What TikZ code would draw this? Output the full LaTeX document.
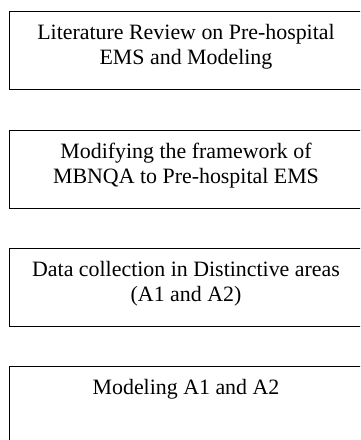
\documentclass[tikz,border=0pt]{standalone}
\usepackage{fontspec}
\setmainfont{Liberation Serif}
\begin{document}
\begin{tikzpicture}[x=1pt,y=-1pt,
  box/.style={draw, line width=1pt, minimum width=355.5pt, minimum height=78pt, inner sep=0pt, anchor=north west},
  lbl/.style={anchor=north, inner sep=0pt, align=center, font=\fontsize{21.9}{25}\selectfont}]
\clip (0,0) rectangle (360,440);
\node[box] (b1) at (8.5,11) {};
\node[box] (b2) at (8.5,129.5) {};
\node[box] (b3) at (8.5,248) {};
\node[box] (b4) at (8.5,366) {};
\node[lbl] (t1) at (186,24.5) {Literature Review on Pre-hospital\\EMS and Modeling};
\node[lbl] (t2) at (186,143) {Modifying the framework of\\MBNQA to Pre-hospital EMS};
\node[lbl] (t3) at (186,261.5) {Data collection in Distinctive areas\\(A1 and A2)};
\node[lbl] (t4) at (186,379.5) {Modeling A1 and A2};
\end{tikzpicture}
\end{document}
